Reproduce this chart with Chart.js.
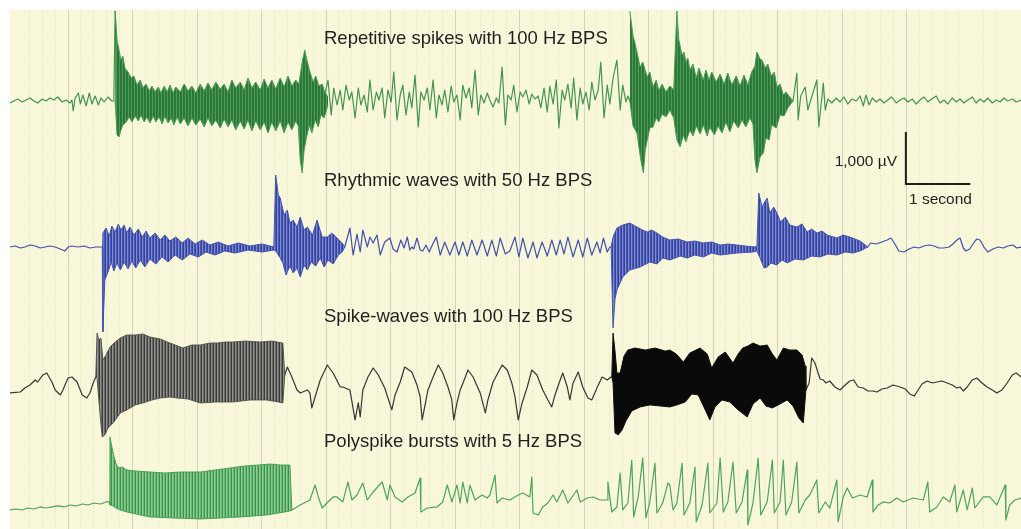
<!DOCTYPE html>
<html>
<head>
<meta charset="utf-8">
<script src="https://cdn.jsdelivr.net/npm/chart.js@4.4.1/dist/chart.umd.min.js"></script>
<style>
  html, body { margin: 0; padding: 0; background: #fff; }
  #wrap { position: relative; width: 1021px; height: 529px; }
  .lbl { position: absolute; font-family: "Liberation Sans", Arial, sans-serif; color: #231f20; white-space: nowrap; }
  .title { font-size: 18.5px; line-height: 18.5px; }
  .small { font-size: 15.5px; line-height: 15.5px; }
</style>
</head>
<body>
<div id="wrap">
  <canvas id="eeg"></canvas>
  <div class="lbl title" style="left:324px; top:29px">Repetitive spikes with 100 Hz BPS</div>
  <div class="lbl title" style="left:324px; top:171px">Rhythmic waves with 50 Hz BPS</div>
  <div class="lbl title" style="left:324px; top:307px">Spike-waves with 100 Hz BPS</div>
  <div class="lbl title" style="left:324px; top:432px">Polyspike bursts with 5 Hz BPS</div>
  <div class="lbl small" style="right:124px; top:153px">1,000 µV</div>
  <div class="lbl small" style="left:909px; top:191px">1 second</div>
</div>
<script>
// ---- data: [seconds, µV relative to the trace baseline] ----

// Repetitive spikes with 100 Hz BPS
const spikesLine = [
  [0.10,-38],[0.16,0],[0.22,38],[0.29,-19],[0.35,19],[0.41,58],[0.47,0],[0.53,-38],[0.60,38],[0.66,0],
  [0.72,58],[0.78,19],[0.84,77],[0.91,-19],[0.97,19],[1.03,-38],[1.06,19],[1.08,-192],[1.11,58],[1.16,154],
  [1.19,-58],[1.23,115],[1.28,-96],[1.33,154],[1.37,-58],[1.42,96],[1.47,-77],[1.51,58],[1.56,-19],[1.62,77],
  [1.68,0],[1.71,0],[1.73,1728],[1.76,600],[1.78,-653],[1.80,-100],[4.95,-50],
  [4.98,115],[5.03,403],[5.08,-269],[5.12,250],[5.17,-77],[5.22,211],[5.26,-173],[5.31,307],[5.36,19],[5.40,173],
  [5.45,-326],[5.50,250],[5.54,-77],[5.59,115],[5.64,-211],[5.68,403],[5.73,-173],[5.78,173],[5.82,19],[5.87,250],
  [5.91,-326],[5.96,211],[6.01,-19],[6.05,557],[6.10,-365],[6.15,115],[6.19,307],[6.24,-269],[6.29,173],[6.33,-134],
  [6.38,499],[6.43,-499],[6.47,173],[6.52,19],[6.57,250],[6.61,-173],[6.66,403],[6.71,-326],[6.75,115],[6.80,-77],
  [6.84,211],[6.89,-211],[6.94,288],[6.98,-19],[7.03,115],[7.08,-365],[7.12,307],[7.17,58],[7.22,250],[7.26,-134],
  [7.31,595],[7.36,-269],[7.40,115],[7.45,-38],[7.50,154],[7.54,19],[7.59,-115],[7.64,58],[7.68,-38],[7.73,653],
  [7.78,-461],[7.82,115],[7.87,19],[7.91,307],[7.96,-211],[8.01,173],[8.05,77],[8.10,211],[8.15,-58],[8.19,134],
  [8.24,38],[8.29,96],[8.33,-134],[8.38,250],[8.43,-211],[8.47,288],[8.52,-58],[8.57,403],[8.61,-518],[8.66,211],
  [8.70,19],[8.75,326],[8.80,-134],[8.84,442],[8.89,-365],[8.94,250],[8.98,-58],[9.03,173],[9.08,-173],[9.12,365],
  [9.17,19],[9.22,211],[9.26,749],[9.31,-326],[9.36,307],[9.40,-58],[9.45,442],[9.51,787],[9.56,-173],[9.60,307],
  [9.65,-19],[9.68,96],[9.71,0],[12.24,0],
  [12.30,538],[12.32,-365],[12.36,96],[12.43,269],[12.47,-173],[12.53,77],[12.61,403],[12.64,-499],[12.71,346],[12.74,-173],
  [12.78,38],[12.84,-38],[12.91,58],[12.97,-19],[13.03,77],[13.09,-58],[13.15,38],[13.22,0],[13.28,96],[13.33,-96],
  [13.37,115],[13.42,-77],[13.47,58],[13.53,-19],[13.59,38],[13.65,-38],[13.71,19],[13.77,77],[13.84,-38],[13.90,19],
  [13.96,58],[14.02,-19],[14.09,38],[14.15,-58],[14.21,19],[14.27,77],[14.33,-19],[14.39,38],[14.46,96],[14.52,-38],
  [14.58,19],[14.64,-58],[14.71,58],[14.77,-19],[14.83,38],[14.89,-38],[14.95,19],[15.02,77],[15.08,-38],[15.14,38],
  [15.20,-19],[15.26,58],[15.33,-38],[15.39,19],[15.45,-19],[15.51,58],[15.57,0],[15.64,38],[15.70,-19],[15.78,19]
];
const spikesBurst1Top = [
  [1.73,1728],[1.76,1171],[1.79,979],[1.82,787],[1.85,864],[1.88,634],[1.93,557],[1.98,442],[2.02,480],[2.07,307],
  [2.12,403],[2.16,250],[2.21,326],[2.26,192],[2.30,288],[2.35,173],[2.40,269],[2.44,154],[2.49,288],[2.54,173],
  [2.58,307],[2.63,154],[2.67,269],[2.74,173],[2.80,326],[2.86,192],[2.92,288],[2.98,154],[3.05,326],[3.11,192],
  [3.17,346],[3.23,211],[3.29,365],[3.36,230],[3.42,326],[3.48,173],[3.54,403],[3.60,250],[3.67,365],[3.73,211],
  [3.79,442],[3.85,250],[3.91,365],[3.98,211],[4.04,422],[4.10,250],[4.16,403],[4.22,230],[4.29,442],[4.35,269],
  [4.41,480],[4.47,288],[4.53,403],[4.58,326],[4.63,749],[4.67,979],[4.71,749],[4.75,557],[4.80,365],[4.84,480],
  [4.89,288],[4.94,326],[4.98,173],[5.03,77]
];
const spikesBurst1Bottom = [
  [1.73,0],[1.76,-653],[1.79,-691],[1.82,-557],[1.85,-461],[1.90,-403],[1.95,-307],[1.99,-403],[2.04,-288],[2.09,-384],
  [2.13,-269],[2.18,-403],[2.22,-307],[2.27,-422],[2.32,-288],[2.36,-403],[2.41,-307],[2.46,-442],[2.50,-288],[2.55,-422],
  [2.60,-326],[2.64,-461],[2.69,-307],[2.74,-442],[2.80,-326],[2.86,-480],[2.92,-326],[2.98,-461],[3.05,-346],[3.11,-499],
  [3.17,-326],[3.23,-480],[3.29,-365],[3.36,-518],[3.42,-346],[3.48,-499],[3.54,-365],[3.60,-557],[3.67,-384],[3.73,-538],
  [3.79,-365],[3.85,-576],[3.91,-384],[3.98,-557],[4.04,-403],[4.10,-614],[4.16,-403],[4.22,-576],[4.29,-384],[4.35,-614],
  [4.41,-403],[4.47,-557],[4.53,-384],[4.57,-480],[4.60,-1133],[4.63,-1382],[4.66,-941],[4.69,-749],[4.74,-461],[4.78,-614],
  [4.83,-365],[4.88,-499],[4.92,-269],[4.97,-326],[5.03,-77]
];
const spikesBurst2Top = [
  [9.71,1728],[9.76,1250],[9.79,1114],[9.84,826],[9.87,653],[9.91,749],[9.98,461],[10.02,557],[10.07,269],[10.12,403],
  [10.16,192],[10.21,326],[10.27,173],[10.33,288],[10.39,211],[10.44,1728],[10.47,1171],[10.52,883],[10.55,941],[10.58,749],
  [10.61,826],[10.64,595],[10.69,710],[10.74,442],[10.78,634],[10.85,403],[10.89,595],[10.94,403],[10.98,557],[11.05,365],
  [11.11,518],[11.17,326],[11.23,538],[11.29,307],[11.36,480],[11.42,288],[11.48,499],[11.54,307],[11.60,557],[11.65,672],
  [11.68,941],[11.73,806],[11.76,787],[11.81,634],[11.85,710],[11.90,480],[11.95,557],[11.99,269],[12.04,326],[12.09,115],
  [12.13,173],[12.19,77],[12.24,0]
];
const spikesBurst2Bottom = [
  [9.71,0],[9.76,-480],[9.82,-614],[9.88,-1133],[9.92,-1382],[9.95,-941],[9.98,-749],[10.02,-518],[10.07,-499],[10.12,-326],
  [10.16,-403],[10.21,-250],[10.27,-307],[10.33,-173],[10.39,-326],[10.44,-749],[10.49,-883],[10.54,-653],[10.58,-787],[10.64,-557],
  [10.69,-672],[10.74,-480],[10.80,-634],[10.85,-461],[10.91,-672],[10.95,-499],[11.02,-653],[11.08,-480],[11.14,-614],[11.20,-403],
  [11.26,-595],[11.32,-384],[11.39,-518],[11.45,-365],[11.51,-499],[11.57,-326],[11.62,-442],[11.65,-1133],[11.68,-1382],[11.73,-1075],
  [11.78,-998],[11.82,-710],[11.87,-749],[11.91,-461],[11.98,-518],[12.04,-269],[12.10,-288],[12.16,-134],[12.24,0]
];

// Rhythmic waves with 50 Hz BPS
const wavesLine = [
  [0.10,0],[0.18,19],[0.26,-19],[0.33,0],[0.41,38],[0.49,19],[0.57,-19],[0.64,0],[0.72,19],[0.80,0],
  [0.88,-38],[0.95,-77],[1.00,0],[1.06,19],[1.15,0],[1.25,19],[1.34,-19],[1.43,0],[1.53,0],[5.29,0],
  [5.37,365],[5.42,-154],[5.48,250],[5.53,-96],[5.57,326],[5.64,0],[5.68,192],[5.73,77],[5.79,230],[5.84,-154],
  [5.91,96],[5.99,173],[6.04,-38],[6.10,-96],[6.16,134],[6.21,-19],[6.26,192],[6.30,-58],[6.33,0],[6.36,-38],
  [6.41,173],[6.46,-58],[6.50,-77],[6.55,38],[6.60,-96],[6.64,19],[6.71,192],[6.77,-154],[6.84,96],[6.92,-154],
  [7.00,96],[7.06,-154],[7.12,96],[7.19,-173],[7.26,134],[7.34,-154],[7.42,134],[7.50,-173],[7.57,134],[7.64,-173],
  [7.70,173],[7.78,-134],[7.85,-77],[7.93,192],[7.99,-192],[8.05,173],[8.13,-211],[8.21,96],[8.27,-211],[8.35,96],
  [8.43,-173],[8.50,134],[8.57,-154],[8.63,134],[8.69,-134],[8.75,192],[8.83,-192],[8.91,134],[8.98,-192],[9.05,173],
  [9.12,-154],[9.20,96],[9.25,-115],[9.30,173],[9.36,-96],[9.40,0],[9.42,0],[13.40,0],
  [13.44,77],[13.53,58],[13.62,96],[13.70,134],[13.76,173],[13.82,58],[13.88,-77],[13.96,-96],[14.04,-38],[14.12,0],
  [14.19,-19],[14.27,19],[14.35,38],[14.43,19],[14.50,-19],[14.58,-19],[14.66,0],[14.72,58],[14.78,134],[14.83,173],
  [14.88,-19],[14.92,-77],[14.98,-38],[15.05,96],[15.09,154],[15.14,134],[15.20,0],[15.26,-96],[15.34,-38],[15.42,0],
  [15.50,-19],[15.57,19],[15.65,38],[15.71,-19],[15.78,0]
];
const wavesBurst1Top = [
  [1.53,0],[1.54,269],[1.59,365],[1.64,211],[1.68,403],[1.73,288],[1.78,442],[1.82,326],[1.87,422],[1.91,269],
  [1.96,384],[2.02,230],[2.09,346],[2.15,192],[2.21,307],[2.27,173],[2.35,269],[2.43,134],[2.50,230],[2.58,115],
  [2.67,192],[2.77,77],[2.86,173],[2.97,58],[3.08,134],[3.20,38],[3.33,96],[3.48,19],[3.64,77],[3.82,19],
  [4.01,58],[4.19,0],[4.22,1382],[4.26,1000],[4.29,941],[4.35,614],[4.40,710],[4.44,461],[4.49,518],[4.55,384],
  [4.60,576],[4.66,326],[4.71,384],[4.79,230],[4.86,518],[4.94,192],[5.02,192],[5.09,269],[5.17,173],[5.25,77],[5.29,0]
];
const wavesBurst1Bottom = [
  [1.53,0],[1.54,-1632],[1.57,-634],[1.62,-480],[1.67,-288],[1.71,-461],[1.76,-307],[1.81,-442],[1.87,-288],[1.93,-422],
  [1.99,-269],[2.05,-403],[2.12,-250],[2.19,-384],[2.27,-230],[2.36,-326],[2.46,-192],[2.55,-288],[2.66,-154],[2.77,-250],
  [2.89,-134],[3.02,-192],[3.14,-96],[3.28,-154],[3.43,-77],[3.59,-115],[3.79,-58],[4.01,-96],[4.19,-58],[4.22,-77],
  [4.29,-211],[4.33,-307],[4.38,-538],[4.44,-365],[4.49,-499],[4.55,-403],[4.60,-576],[4.66,-346],[4.71,-442],[4.77,-288],
  [4.84,-365],[4.91,-211],[4.97,-384],[5.03,-250],[5.11,-326],[5.19,-154],[5.25,-96],[5.29,0]
];
const wavesBurst2Top = [
  [9.42,0],[9.45,192],[9.51,365],[9.60,422],[9.71,461],[9.82,384],[9.91,326],[9.98,288],[10.05,326],[10.13,269],
  [10.22,192],[10.33,134],[10.46,154],[10.60,96],[10.72,115],[10.85,77],[10.98,96],[11.11,38],[11.23,58],[11.37,38],
  [11.50,19],[11.62,0],[11.68,0],[11.71,1037],[11.76,768],[11.80,864],[11.84,941],[11.88,653],[11.94,768],[11.99,653],
  [12.05,480],[12.12,576],[12.19,422],[12.30,384],[12.38,442],[12.46,288],[12.53,346],[12.61,269],[12.69,307],[12.77,230],
  [12.92,173],[13.02,230],[13.12,192],[13.28,115],[13.40,0]
];
const wavesBurst2Bottom = [
  [9.42,0],[9.45,-1555],[9.48,-998],[9.51,-826],[9.60,-576],[9.71,-442],[9.87,-384],[10.02,-288],[10.13,-326],[10.22,-211],
  [10.33,-250],[10.49,-173],[10.60,-211],[10.72,-154],[10.85,-192],[10.98,-115],[11.11,-154],[11.37,-115],[11.62,-96],[11.68,-77],
  [11.73,-211],[11.79,-403],[11.84,-384],[11.90,-307],[11.99,-346],[12.07,-250],[12.15,-307],[12.27,-230],[12.40,-250],[12.53,-173],
  [12.66,-192],[12.78,-134],[12.92,-154],[13.05,-96],[13.17,-115],[13.28,-77],[13.40,0]
];

// Spike-waves with 100 Hz BPS
const swLine = [
  [0.10,-288],[0.26,-269],[0.33,-192],[0.41,-134],[0.49,-38],[0.53,-77],[0.61,58],[0.67,96],[0.75,-77],[0.80,-230],
  [0.88,-326],[0.92,-230],[1.00,0],[1.06,19],[1.14,-77],[1.22,-326],[1.29,-384],[1.34,-288],[1.39,-96],[1.43,19],
  [4.36,58],[4.40,211],[4.47,19],[4.55,-230],[4.60,-288],[4.71,-230],[4.75,-288],[4.78,-576],[4.83,-365],[4.91,-38],
  [5.02,250],[5.11,96],[5.22,-173],[5.26,-173],[5.37,-230],[5.45,-806],[5.50,-480],[5.53,-749],[5.57,-230],[5.65,19],
  [5.73,192],[5.81,58],[5.91,-192],[5.96,-384],[6.02,-614],[6.07,-326],[6.15,-77],[6.22,211],[6.33,115],[6.41,-134],
  [6.46,-365],[6.49,-806],[6.53,-557],[6.58,-230],[6.66,19],[6.74,250],[6.81,96],[6.89,-173],[6.95,-422],[6.98,-806],
  [7.03,-480],[7.08,-230],[7.16,19],[7.20,154],[7.28,19],[7.39,-288],[7.47,-672],[7.51,-422],[7.59,-77],[7.73,250],
  [7.81,154],[7.88,-96],[7.93,-365],[7.98,-806],[8.04,-480],[8.12,-173],[8.19,154],[8.27,58],[8.36,-230],[8.44,-422],
  [8.50,-557],[8.55,-326],[8.63,-38],[8.67,96],[8.74,-173],[8.78,-422],[8.83,-96],[8.91,115],[8.98,-173],[9.06,-384],
  [9.12,-422],[9.20,-192],[9.28,19],[9.36,-38],[9.42,19],[12.44,-230],
  [12.49,-96],[12.53,384],[12.58,288],[12.66,-19],[12.71,-38],[12.75,-96],[12.81,-58],[12.89,-173],[12.97,-230],[13.05,-134],
  [13.12,-58],[13.18,-38],[13.25,-173],[13.33,-192],[13.40,-250],[13.48,-250],[13.54,-269],[13.62,-211],[13.70,-192],[13.79,-134],
  [13.90,-173],[13.98,-211],[14.05,-307],[14.12,-346],[14.16,-269],[14.24,-115],[14.32,-58],[14.40,-96],[14.47,-77],[14.55,-58],
  [14.63,-96],[14.71,-134],[14.78,-192],[14.83,-173],[14.88,-250],[14.94,-173],[15.02,-38],[15.09,0],[15.17,-96],[15.25,-173],
  [15.33,-230],[15.40,-288],[15.48,-230],[15.56,-96],[15.64,58],[15.70,96],[15.78,19]
];
const swBurst1Top = [
  [1.43,19],[1.45,864],[1.48,730],[1.51,768],[1.54,346],[1.59,442],[1.65,595],[1.73,691],[1.81,768],[1.91,826],
  [2.04,826],[2.16,845],[2.27,787],[2.43,749],[2.54,691],[2.66,634],[2.78,576],[2.92,634],[3.05,634],[3.20,672],
  [3.31,672],[3.43,691],[3.56,691],[3.74,710],[3.98,691],[4.16,710],[4.33,672],[4.36,58]
];
const swBurst1Bottom = [
  [1.43,19],[1.45,0],[1.50,-749],[1.53,-1133],[1.57,-1094],[1.62,-960],[1.70,-864],[1.81,-672],[1.91,-614],[2.04,-518],
  [2.16,-480],[2.30,-422],[2.43,-384],[2.58,-365],[2.69,-384],[2.86,-403],[3.05,-480],[3.28,-461],[3.56,-461],[3.82,-422],
  [4.08,-422],[4.26,-461],[4.33,-480],[4.36,58]
];
const swBurst2Top = [
  [9.43,19],[9.45,864],[9.48,518],[9.51,96],[9.56,96],[9.62,422],[9.68,538],[9.79,576],[9.95,538],[10.10,576],
  [10.26,518],[10.33,538],[10.43,461],[10.54,307],[10.64,480],[10.80,576],[10.91,461],[10.98,192],[11.08,403],[11.19,499],
  [11.31,288],[11.39,461],[11.46,576],[11.54,614],[11.62,672],[11.73,614],[11.84,634],[11.92,461],[11.99,346],[12.09,576],
  [12.19,538],[12.30,538],[12.38,442],[12.43,230],[12.44,-230]
];
const swBurst2Bottom = [
  [9.43,19],[9.45,-96],[9.48,-1056],[9.53,-1094],[9.59,-999],[9.65,-826],[9.74,-634],[9.87,-557],[10.02,-518],[10.18,-538],
  [10.33,-557],[10.44,-518],[10.57,-461],[10.67,-307],[10.77,-326],[10.88,-614],[10.95,-806],[11.03,-557],[11.14,-422],[11.26,-461],
  [11.39,-614],[11.53,-749],[11.62,-499],[11.73,-384],[11.82,-538],[11.92,-576],[12.04,-499],[12.15,-422],[12.24,-538],[12.33,-768],
  [12.40,-864],[12.44,-230]
];

// Polyspike bursts with 5 Hz BPS
const polyLine = [
  [0.10,-96],[0.19,-77],[0.29,-96],[0.38,-58],[0.47,-77],[0.57,-38],[0.66,-58],[0.75,-38],[0.84,-19],[0.94,-38],
  [1.03,0],[1.12,-19],[1.22,19],[1.31,0],[1.40,38],[1.50,19],[1.59,58],[1.64,58],[4.47,-96],
  [4.60,0],[4.75,96],[4.83,384],[4.88,154],[4.94,-58],[5.03,58],[5.11,154],[5.17,154],[5.26,58],[5.34,442],
  [5.40,96],[5.48,192],[5.57,422],[5.64,96],[5.73,250],[5.87,442],[5.95,96],[5.99,384],[6.07,154],[6.18,58],
  [6.27,154],[6.38,230],[6.46,518],[6.47,-134],[6.57,-58],[6.72,-38],[6.81,58],[6.88,384],[6.95,58],[7.03,384],
  [7.08,38],[7.12,442],[7.19,38],[7.23,384],[7.31,96],[7.42,192],[7.50,134],[7.54,192],[7.62,576],[7.65,38],
  [7.73,134],[7.85,96],[7.98,192],[8.05,230],[8.16,154],[8.19,538],[8.21,-154],[8.29,-192],[8.36,-38],[8.44,38],
  [8.52,192],[8.58,58],[8.67,288],[8.75,38],[8.89,288],[8.94,58],[9.05,134],[9.14,154],[9.25,96],[9.36,96],
  [9.37,442],[9.43,-134],[9.51,-38],[9.56,614],[9.60,-96],[9.68,38],[9.74,864],[9.77,-230],[9.84,154],[9.91,902],
  [9.96,-250],[10.02,58],[10.10,806],[10.13,-154],[10.22,38],[10.30,422],[10.33,384],[10.38,-96],[10.44,38],[10.52,806],
  [10.55,-192],[10.64,38],[10.72,730],[10.74,-326],[10.83,0],[10.92,806],[10.95,-154],[11.06,38],[11.11,902],[11.16,-134],
  [11.23,58],[11.31,826],[11.36,-154],[11.45,58],[11.53,672],[11.54,-384],[11.62,38],[11.70,902],[11.74,-192],[11.84,58],
  [11.92,864],[11.95,-154],[12.04,58],[12.09,864],[12.13,-192],[12.22,58],[12.30,826],[12.33,-154],[12.43,96],[12.50,192],
  [12.61,480],[12.64,-154],[12.74,58],[12.81,-58],[12.92,480],[12.94,-326],[13.02,154],[13.08,326],[13.16,134],[13.28,192],
  [13.39,154],[13.47,480],[13.48,-134],[13.56,0],[13.64,58],[13.74,38],[13.85,134],[13.95,58],[14.10,134],[14.26,96],
  [14.33,442],[14.36,-134],[14.47,-38],[14.57,154],[14.67,58],[14.75,384],[14.78,-134],[14.88,288],[14.94,-96],[15.02,326],
  [15.06,-58],[15.19,154],[15.29,154],[15.40,0],[15.53,384],[15.54,-288],[15.60,0],[15.68,96],[15.78,134]
];
const polyBurst1Top = [
  [1.64,58],[1.65,1306],[1.68,1114],[1.71,941],[1.74,807],[1.78,710],[1.84,730],[1.91,672],[2.04,653],[2.27,634],
  [2.50,614],[2.74,634],[3.05,634],[3.28,672],[3.51,710],[3.74,749],[3.95,768],[4.13,787],[4.29,768],[4.44,768],[4.47,-96]
];
const polyBurst1Bottom = [
  [1.64,58],[1.65,0],[1.70,-19],[1.74,-58],[1.81,-96],[1.91,-134],[2.12,-192],[2.27,-230],[2.63,-250],[3.05,-269],
  [3.36,-250],[3.67,-230],[4.08,-192],[4.36,-134],[4.44,-115],[4.47,-96]
];

// scale bar
const scaleBarUV = 1000;
const scaleBarSeconds = 1;

// ---- layout (positions and styles, not data) ----
const T_MIN = 0.1, T_MAX = 15.775;   // visible window in seconds
const UV_SPAN = 9981;                // visible height in µV
const scaleBarAt = { t: 13.99, uv: 6635 };

const ctx = document.getElementById('eeg').getContext('2d');

function stripes(colors) {
  const c = document.createElement('canvas');
  c.width = colors.length; c.height = 1;
  const g = c.getContext('2d');
  colors.forEach((col, i) => { g.fillStyle = col; g.fillRect(i, 0, 1, 1); });
  return ctx.createPattern(c, 'repeat');
}

const traces = [
  { line: spikesLine, offset: 8231, color: '#44944f',
    bursts: [
      { top: spikesBurst1Top, bottom: spikesBurst1Bottom, edge: '#4a9a55', fill: stripes(['#2a7436', '#2d7a3a', '#4c9c57']) },
      { top: spikesBurst2Top, bottom: spikesBurst2Bottom, edge: '#4a9a55', fill: stripes(['#2a7436', '#2d7a3a', '#4c9c57']) }
    ] },
  { line: wavesLine, offset: 5423, color: '#4150ad',
    bursts: [
      { top: wavesBurst1Top, bottom: wavesBurst1Bottom, edge: '#4453ad', fill: stripes(['#33439f', '#7f8bd0', '#4a58b2']) },
      { top: wavesBurst2Top, bottom: wavesBurst2Bottom, edge: '#4453ad', fill: stripes(['#33439f', '#7f8bd0', '#4a58b2']) }
    ] },
  { line: swLine, offset: 2904, color: '#353535',
    bursts: [
      { top: swBurst1Top, bottom: swBurst1Bottom, edge: '#555555', fill: stripes(['#3a3a3a', '#94948e', '#676764']) },
      { top: swBurst2Top, bottom: swBurst2Bottom, edge: '#111111', fill: stripes(['#0a0a0a']) }
    ] },
  { line: polyLine, offset: 462, color: '#4ea45a',
    bursts: [
      { top: polyBurst1Top, bottom: polyBurst1Bottom, edge: '#4a9f56', fill: stripes(['#3b934a', '#8ccd94', '#6cb977']) }
    ] }
];

const shift = (pts, off) => pts.map(([t, v]) => ({ x: t, y: v + off }));

const datasets = [];
traces.forEach(tr => {
  datasets.push({ data: shift(tr.line, tr.offset), borderColor: tr.color, borderWidth: 1.2, order: 2 });
  tr.bursts.forEach(b => {
    datasets.push({ data: shift(b.top, tr.offset), borderColor: b.edge, borderWidth: 1, order: 1, fill: false });
    datasets.push({ data: shift(b.bottom, tr.offset), borderColor: b.edge, borderWidth: 1, order: 1,
                    fill: '-1', backgroundColor: b.fill });
  });
});
datasets.push({
  data: [
    { x: scaleBarAt.t, y: scaleBarAt.uv + scaleBarUV },
    { x: scaleBarAt.t, y: scaleBarAt.uv },
    { x: scaleBarAt.t + scaleBarSeconds, y: scaleBarAt.uv }
  ],
  borderColor: '#1e1e1e', borderWidth: 2, borderJoinStyle: 'miter', borderCapStyle: 'butt', order: 0
});

const paperBg = {
  id: 'paperBg',
  beforeDraw(chart) {
    const a = chart.chartArea, c = chart.ctx;
    c.save();
    c.fillStyle = '#f8f7d9';
    c.fillRect(a.left, a.top, a.right - a.left, a.bottom - a.top);
    c.restore();
  }
};

new Chart(ctx, {
  type: 'line',
  data: { datasets },
  options: {
    responsive: true,
    maintainAspectRatio: false,
    animation: false,
    events: [],
    layout: { padding: { left: 10, top: 10, right: 0, bottom: 0 } },
    elements: {
      point: { radius: 0 },
      line: { tension: 0, borderJoinStyle: 'round', fill: false }
    },
    plugins: { legend: { display: false }, tooltip: { enabled: false } },
    scales: {
      x: {
        type: 'linear', min: T_MIN, max: T_MAX,
        ticks: { display: false, stepSize: 1 },
        afterBuildTicks: s => { s.ticks = s.ticks.filter(t => t.value > T_MIN + 0.01 && t.value < T_MAX - 0.01); },
        grid: { color: '#d3d2bb', lineWidth: 1, drawTicks: false },
        border: { display: false }
      },
      xMinor: {
        type: 'linear', position: 'bottom', min: T_MIN, max: T_MAX,
        ticks: { display: false, stepSize: 0.2 },
        afterBuildTicks: s => {
          s.ticks = s.ticks.filter(t => t.value > T_MIN + 0.01 && t.value < T_MAX - 0.01 &&
                                        Math.abs(t.value - Math.round(t.value)) > 0.01);
        },
        grid: { color: '#dfdec8', lineWidth: 1, drawTicks: false },
        border: { display: false, dash: [1, 2] }
      },
      y: { type: 'linear', min: 0, max: UV_SPAN, display: false }
    }
  },
  plugins: [paperBg]
});
</script>
</body>
</html>
